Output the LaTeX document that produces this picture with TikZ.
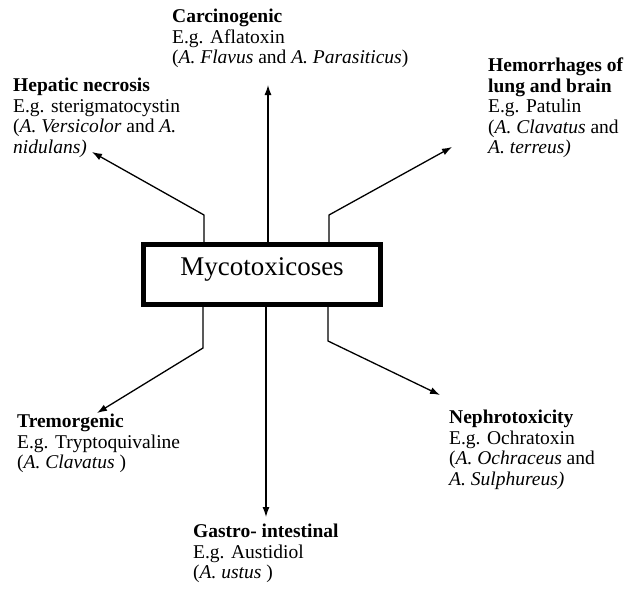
\documentclass[tikz,border=0pt]{standalone}
\usepackage{fontspec}
\setmainfont{Liberation Serif}
\usetikzlibrary{arrows.meta}

\begin{document}
\begin{tikzpicture}[
  x=1pt, y=-1pt,
  conn/.style={draw, -{Latex[length=10pt,width=7pt]}, line width=1.3pt},
  txt/.style={anchor=north west, inner sep=0pt, align=left,
  font=\fontsize{19.5}{20.5}\selectfont},
  mainbox/.style={draw, rectangle, line width=5pt, inner sep=0pt,
  minimum width=237pt, minimum height=60pt, text height=18pt, text depth=17pt,
  font=\fontsize{27}{30}\selectfont}
]
\useasboundingbox (0,0) rectangle (629,595);

\node[mainbox] (myco) at (262,274.5) {Mycotoxicoses};

\node[txt] (carc) at (172,9) {\textbf{Carcinogenic}\\E.g. Aflatoxin\\
  (\textit{A. Flavus} and \textit{A. Parasiticus})};
\node[txt] (hep) at (13,78) {\textbf{Hepatic necrosis}\\E.g. sterigmatocystin\\
  (\textit{A. Versicolor} and \textit{A.}\\\textit{nidulans)}};
\node[txt] (hem) at (488,58) {\textbf{Hemorrhages of}\\\textbf{lung and brain}\\
  E.g. Patulin\\(\textit{A. Clavatus} and\\\textit{A. terreus)}};
\node[txt] (trem) at (17,414) {\textbf{Tremorgenic}\\E.g. Tryptoquivaline\\
  (\textit{A. Clavatus} )};
\node[txt] (gast) at (193,524) {\textbf{Gastro- intestinal}\\E.g. Austidiol\\
  (\textit{A. ustus} )};
\node[txt] (neph) at (449,410) {\textbf{Nephrotoxicity}\\E.g. Ochratoxin\\
  (\textit{A. Ochraceus} and\\\textit{A. Sulphureus)}};

\coordinate (tipcarc) at (268,85);
\coordinate (tiphep) at (92,152);
\coordinate (tiphem) at (452,147);
\coordinate (tiptrem) at (97,413);
\coordinate (tipgast) at (266,517);
\coordinate (tipneph) at (440,395);

\draw[conn] ([xshift=6pt]myco.north) -- (tipcarc);
\draw[conn] ([xshift=-58pt]myco.north) -- ++(0,-27) -- (tiphep);
\draw[conn] ([xshift=67pt]myco.north) -- ++(0,-27) -- (tiphem);
\draw[conn] ([xshift=-59pt]myco.south) -- ++(0,41) -- (tiptrem);
\draw[conn] ([xshift=4pt]myco.south) -- (tipgast);
\draw[conn] ([xshift=66pt]myco.south) -- ++(0,34) -- (tipneph);

\end{tikzpicture}
\end{document}
